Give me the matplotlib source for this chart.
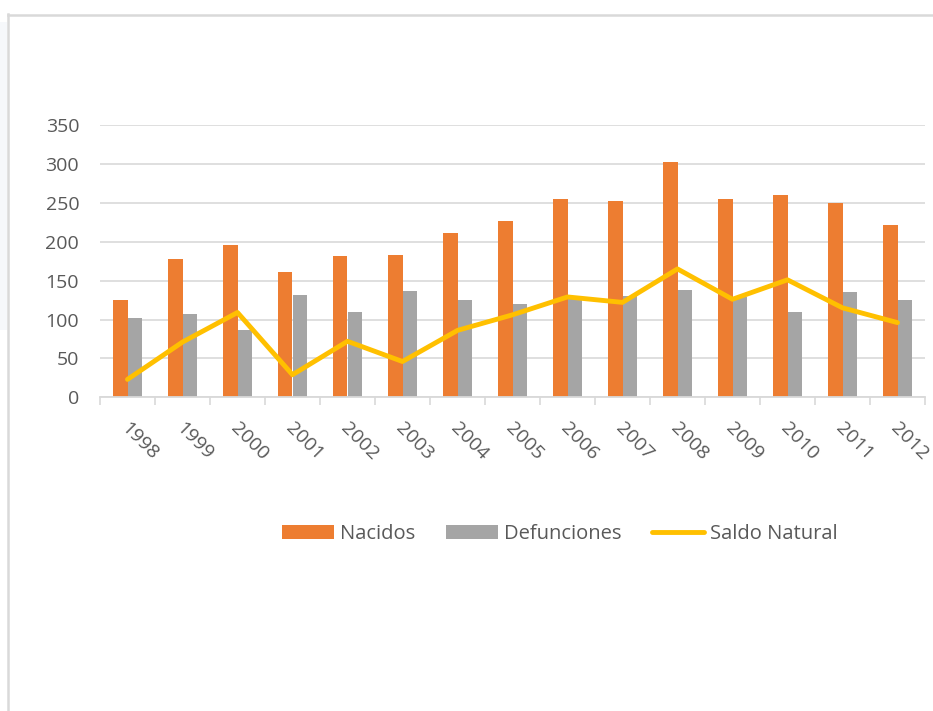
import numpy as np
import matplotlib
matplotlib.use("Agg")
import matplotlib.pyplot as plt
from matplotlib.lines import Line2D
from matplotlib.patches import Rectangle

# Data

years = ["1998", "1999", "2000", "2001", "2002", "2003", "2004", "2005",
         "2006", "2007", "2008", "2009", "2010", "2011", "2012"]
nacidos = [125, 178, 196, 161, 181, 183, 211, 226, 255, 252, 303, 255, 260, 250, 221]
defunciones = [102, 107, 87, 132, 109, 137, 125, 120, 126, 130, 138, 129, 109, 135, 125]
saldo = [23, 71, 109, 29, 72, 46, 86, 106, 129, 122, 165, 126, 151, 115, 96]

orange = "#ED7D31"
gray = "#A5A5A5"
yellow = "#FFC000"
text_gray = "#595959"
light = "#D9D9D9"

plt.rcParams["font.family"] = ["Open Sans", "DejaVu Sans"]

fig = plt.figure(figsize=(9.33, 7.11), dpi=100)
W, H = 933, 711

# Chart frame (left and top edges visible, rest runs off the picture)
fig.add_artist(Rectangle((0, 1 - 330 / H), 7 / W, 308 / H, transform=fig.transFigure,
                         facecolor="#F6F8FB", edgecolor="none"))
fig.add_artist(Line2D([8 / W, 8 / W], [0, 1 - 14 / H], transform=fig.transFigure,
                      color=light, lw=1.8))
fig.add_artist(Line2D([8 / W, 1], [1 - 14.5 / H, 1 - 14.5 / H], transform=fig.transFigure,
                      color=light, lw=1.8))

ax = fig.add_axes([100 / W, 1 - 397.3 / H, 825 / W, 272.3 / H])

x = np.arange(len(years))
bw = 0.2727
b1 = ax.bar(x - bw / 2, nacidos, width=bw, color=orange, label="Nacidos", zorder=2)
b2 = ax.bar(x + bw / 2, defunciones, width=bw, color=gray, label="Defunciones", zorder=2)
l1, = ax.plot(x, saldo, color=yellow, lw=3.5, label="Saldo Natural", zorder=3,
              solid_joinstyle="round", solid_capstyle="round")

ax.set_xlim(-0.5, len(years) - 0.5)
ax.set_ylim(0, 350)
ax.set_yticks(range(0, 351, 50))
ax.yaxis.grid(True, color=light, lw=1.2, zorder=0)
ax.set_axisbelow(True)

for side in ["top", "right", "left"]:
    ax.spines[side].set_visible(False)
ax.spines["bottom"].set_color(light)
ax.spines["bottom"].set_linewidth(1.3)

ax.tick_params(axis="y", length=0, pad=15, labelsize=14, labelcolor=text_gray)
ax.set_xticks(x)
ax.set_xticklabels([])
ax.set_xticks(np.arange(-0.5, len(years), 1.0), minor=True)
ax.tick_params(axis="x", which="major", length=0)
ax.tick_params(axis="x", which="minor", length=5.5, width=1.2, color=light)

# Rotated year labels
for xi, label in zip(x, years):
    ax.annotate(label, (xi, 0), xycoords=("data", "axes fraction"),
                xytext=(-3, -20), textcoords="offset points",
                rotation=-45, rotation_mode="anchor", ha="left", va="center",
                fontsize=14, color=text_gray)

leg = fig.legend([b1, b2, l1], ["Nacidos", "Defunciones", "Saldo Natural"],
                 loc="center", bbox_to_anchor=(560 / W, 1 - 534 / H), ncol=3,
                 frameon=False, fontsize=14.5, labelcolor=text_gray,
                 handlelength=2.6, handleheight=0.7, handletextpad=0.3,
                 columnspacing=1.5)

fig.savefig("out.png", dpi=100)
